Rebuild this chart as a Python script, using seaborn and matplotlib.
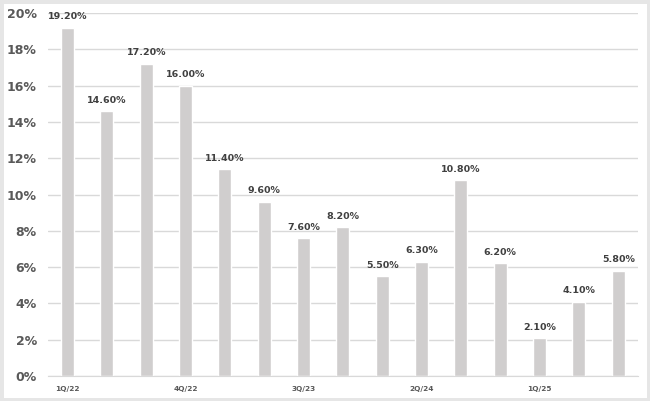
import pandas as pd
import matplotlib.pyplot as plt
import seaborn as sns
from matplotlib.ticker import FuncFormatter

trimestres = ["1Q/22", "2Q/22", "3Q/22", "4Q/22", "1Q/23", "2Q/23", "3Q/23", "4Q/23",
              "1Q/24", "2Q/24", "3Q/24", "4Q/24", "1Q/25", "2Q/25", "3Q/25"]
valores = [19.2, 14.6, 17.2, 16.0, 11.4, 9.6, 7.6, 8.2, 5.5, 6.3, 10.8, 6.2, 2.1, 4.1, 5.8]
etiquetas_x = ["1Q/22", "", "", "4Q/22", "", "", "3Q/23", "", "", "2Q/24", "", "", "1Q/25", "", ""]

df = pd.DataFrame({"trimestre": trimestres, "valor": valores})

sns.set_style("white")
plt.rcParams["font.family"] = ["DejaVu Sans"]

fig = plt.figure(figsize=(6.5, 4.01), dpi=100)
fig.patch.set_edgecolor("#e6e6e6")
fig.patch.set_linewidth(5)
ax = fig.add_axes([0.0738, 0.0623, 0.9077, 0.9053])

sns.barplot(data=df, x="trimestre", y="valor", color="#d0cece", width=0.33,
            saturation=1, ax=ax)

for i, v in enumerate(valores):
    ax.text(i, v + 0.35, f"{v:.2f}%", ha="center", va="bottom",
            fontsize=6.8, fontweight="bold", color="#404040")

ax.set_ylim(0, 20)
ax.set_yticks(range(0, 21, 2))
ax.yaxis.set_major_formatter(FuncFormatter(lambda v, p: f"{v:.0f}%"))
ax.set_xticks(range(len(trimestres)))
ax.set_xticklabels(etiquetas_x)
ax.tick_params(axis="y", labelsize=9, labelcolor="#595959", length=0, pad=8)
ax.tick_params(axis="x", labelsize=5.3, labelcolor="#595959", length=0, pad=7)
for lab in ax.get_yticklabels() + ax.get_xticklabels():
    lab.set_fontweight("bold")

ax.grid(axis="y", color="#d9d9d9", linewidth=1)
ax.set_axisbelow(True)
for s in ["top", "right", "left"]:
    ax.spines[s].set_visible(False)
ax.spines["bottom"].set_color("#d9d9d9")
ax.set_xlabel("")
ax.set_ylabel("")

plt.savefig("out.png", dpi=100)
